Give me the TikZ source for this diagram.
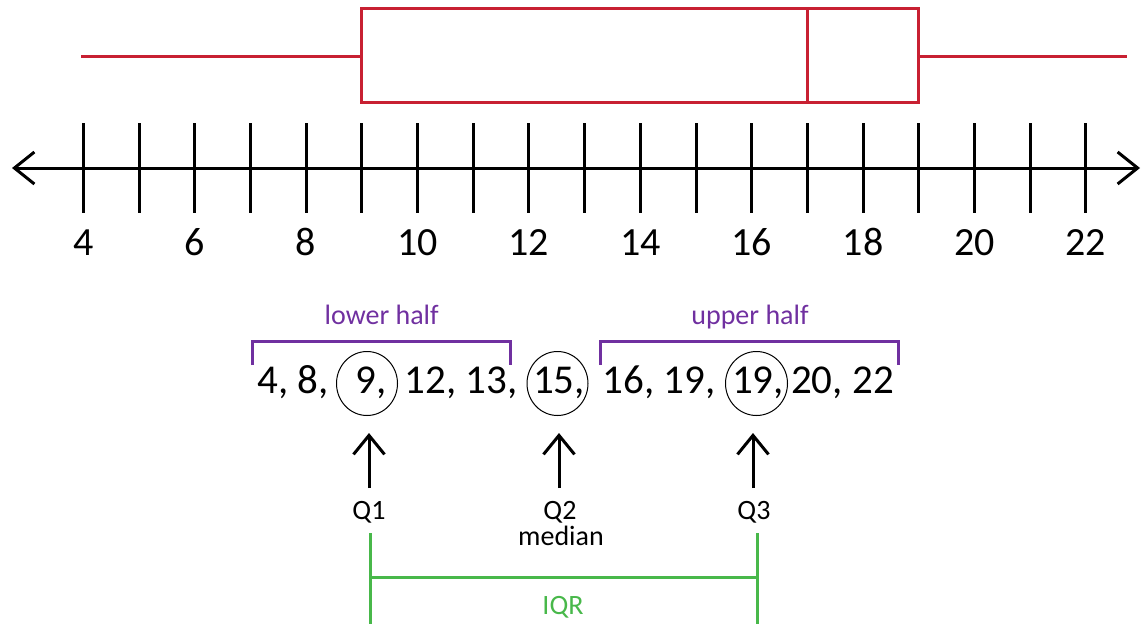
\documentclass[tikz,border=0pt]{standalone}
\usepackage{fontspec}
\setmainfont{Carlito}
\usetikzlibrary{arrows.meta}
\definecolor{boxred}{RGB}{200,32,50}
\definecolor{halfpurple}{RGB}{112,48,160}
\definecolor{iqrgreen}{RGB}{72,184,74}
\begin{document}
\begin{tikzpicture}[x=1pt,y=-1pt,
  axislbl/.style={font=\fontsize{40}{48}\selectfont,anchor=base,inner sep=0pt},
  datalbl/.style={font=\fontsize{41}{48}\selectfont,anchor=base,inner sep=0pt},
  smalllbl/.style={font=\fontsize{28}{32}\selectfont,anchor=base,inner sep=0pt},
  redline/.style={draw=boxred,line width=3pt},
  purpleline/.style={draw=halfpurple,line width=3pt},
  greenline/.style={draw=iqrgreen,line width=3pt},
  ticklinestyle/.style={draw=black,line width=3pt},
  barb/.style={Straight Barb[length=19pt,width=31pt,line width=3pt]}
]
\useasboundingbox (0,0) rectangle (1144,624);

% box plot
\coordinate (wl) at (81,56);
\coordinate (wr) at (1127,56);
\coordinate (bl) at (361.8,56);
\coordinate (br) at (918.8,56);
\draw[redline] (wl) -- (bl);
\draw[redline] (br) -- (wr);
\draw[redline] (361.8,8.5) rectangle (918.8,102.5);
\draw[redline] (807.4,8.5) -- (807.4,102.5);

% number line
\coordinate (axl) at (12,168);
\coordinate (axr) at (1140,168);
\draw[line width=3pt,{Straight Barb[length=20pt,width=32pt,line width=3pt]}-{Straight Barb[length=20pt,width=32pt,line width=3pt]}] (axl) -- (axr);
\foreach \v in {4,...,22}{
  \draw[ticklinestyle] ({83.3+55.7*(\v-4)},123) -- ({83.3+55.7*(\v-4)},213);
}
\foreach \v in {4,6,...,22}{
  \node[axislbl] (n\v) at ({83.3+55.7*(\v-4)},255) {\v};
}

% halves
\node[smalllbl,text=halfpurple] (lowerlbl) at (381.7,324) {lower half};
\node[smalllbl,text=halfpurple] (upperlbl) at (750,324) {upper half};
\draw[purpleline] (252.7,365) -- (252.7,341.7) -- (510.7,341.7) -- (510.7,365);
\draw[purpleline] (600.7,365) -- (600.7,341.7) -- (898,341.7) -- (898,365);

% data
\node[datalbl] (d1) at (293,393) {4, 8,};
\node[datalbl] (d2) at (371,393) {9,};
\node[datalbl] (d3) at (461,393) {12, 13,};
\node[datalbl] (d4) at (559,393) {15,};
\node[datalbl] (d5) at (659,393) {16, 19,};
\node[datalbl] (d6) at (758,393) {19,};
\node[datalbl] (d7) at (842.5,393) {20, 22};
\draw[line width=1pt] (367,383.5) ellipse [x radius=30.5, y radius=32];
\draw[line width=1pt] (557.5,383.5) ellipse [x radius=30.5, y radius=32];
\draw[line width=1pt] (756.5,383.5) ellipse [x radius=31, y radius=32];

% quartile arrows
\coordinate (a1s) at (369,488); \coordinate (a1e) at (369,433);
\coordinate (a2s) at (559,488); \coordinate (a2e) at (559,433);
\coordinate (a3s) at (753,488); \coordinate (a3e) at (753,433);
\draw[line width=3pt,-{Straight Barb[length=19pt,width=31pt,line width=3pt]}] (a1s) -- (a1e);
\draw[line width=3pt,-{Straight Barb[length=19pt,width=31pt,line width=3pt]}] (a2s) -- (a2e);
\draw[line width=3pt,-{Straight Barb[length=19pt,width=31pt,line width=3pt]}] (a3s) -- (a3e);
\node[smalllbl] (q1) at (369,519) {Q1};
\node[smalllbl] (q2) at (560,519) {Q2};
\node[smalllbl] (med) at (561,545) {median};
\node[smalllbl] (q3) at (754,519) {Q3};

% IQR
\coordinate (g1t) at (370,533); \coordinate (g1b) at (370,624);
\coordinate (g2t) at (757,533); \coordinate (g2b) at (757,624);
\draw[greenline] (g1t) -- (g1b);
\draw[greenline] (g2t) -- (g2b);
\draw[greenline] (370,577) -- (757,577);
\node[smalllbl,text=iqrgreen] (iqr) at (563,614) {IQR};
\end{tikzpicture}
\end{document}
